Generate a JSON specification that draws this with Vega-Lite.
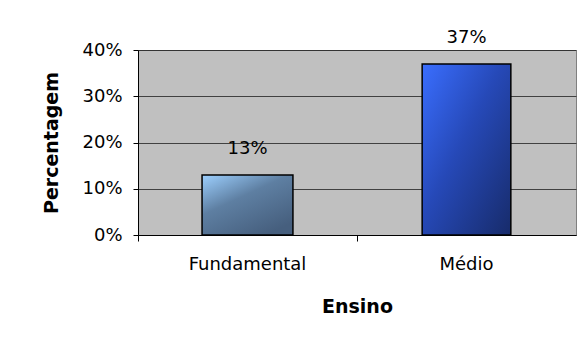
{
  "$schema": "https://vega.github.io/schema/vega-lite/v6.json",
  "width": 438,
  "height": 185,
  "autosize": {"type": "none"},
  "padding": {"left": 138, "top": 50, "right": 5, "bottom": 114},
  "background": "white",
  "config": {
    "view": {"fill": "#C0C0C0", "stroke": "#808080", "strokeWidth": 1},
    "font": "DejaVu Sans"
  },
  "data": {
    "values": [
      {"Ensino": "Fundamental", "Percentagem": 0.13, "rotulo": "13%"},
      {"Ensino": "Médio", "Percentagem": 0.37, "rotulo": "37%"}
    ]
  },
  "encoding": {
    "x": {
      "field": "Ensino",
      "type": "nominal",
      "sort": null,
      "scale": {"paddingInner": 0, "paddingOuter": 0},
      "axis": {
        "title": "Ensino",
        "labelAngle": 0,
        "bandPosition": 0,
        "domainColor": "#000000",
        "tickColor": "#000000",
        "tickSize": 6,
        "labelFont": "DejaVu Sans",
        "labelFontSize": 18,
        "labelColor": "#000000",
        "labelPadding": 14,
        "titleFont": "DejaVu Sans",
        "titleFontSize": 19,
        "titleFontWeight": "bold",
        "titleColor": "#000000",
        "titlePadding": 24,
        "grid": false
      }
    },
    "y": {
      "field": "Percentagem",
      "type": "quantitative",
      "scale": {"domain": [0, 0.4], "nice": false},
      "axis": {
        "title": "Percentagem",
        "values": [0, 0.1, 0.2, 0.3, 0.4],
        "format": ".0%",
        "domainColor": "#000000",
        "tickColor": "#000000",
        "tickSize": 5,
        "labelFont": "DejaVu Sans",
        "labelFontSize": 18,
        "labelColor": "#000000",
        "labelPadding": 11,
        "titleFont": "DejaVu Sans",
        "titleFontSize": 19,
        "titleFontWeight": "bold",
        "titleColor": "#000000",
        "titlePadding": 20,
        "grid": true,
        "gridColor": "#202020",
        "gridOpacity": 0.8,
        "gridWidth": 1
      }
    }
  },
  "layer": [
    {
      "transform": [{"filter": "datum.Ensino === 'Fundamental'"}],
      "mark": {
        "type": "bar",
        "width": {"band": 0.415},
        "stroke": "#000000",
        "strokeWidth": 1.5,
        "color": {
          "gradient": "linear",
          "x1": 0, "y1": 0, "x2": 0.7, "y2": 1,
          "stops": [
            {"offset": 0, "color": "#9DD0FF"},
            {"offset": 0.45, "color": "#5E7FA2"},
            {"offset": 1, "color": "#465F7E"}
          ]
        }
      }
    },
    {
      "transform": [{"filter": "datum.Ensino === 'Médio'"}],
      "mark": {
        "type": "bar",
        "width": {"band": 0.405},
        "stroke": "#000000",
        "strokeWidth": 1.5,
        "color": {
          "gradient": "linear",
          "x1": 0, "y1": 0, "x2": 1, "y2": 1,
          "stops": [
            {"offset": 0, "color": "#3A6EFF"},
            {"offset": 0.45, "color": "#2649B8"},
            {"offset": 1, "color": "#172B6A"}
          ]
        }
      }
    },
    {
      "mark": {
        "type": "text",
        "baseline": "bottom",
        "dy": -17,
        "font": "DejaVu Sans",
        "fontSize": 18,
        "color": "#000000"
      },
      "encoding": {"text": {"field": "rotulo"}}
    }
  ]
}
